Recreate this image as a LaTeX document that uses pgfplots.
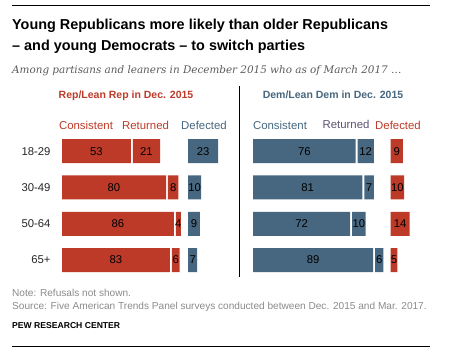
\documentclass[border=0pt]{standalone}
\usepackage{fontspec}
\setmainfont{Liberation Sans}
\newfontfamily\subfont{DejaVu Serif}
\usepackage{pgfplots}
\usepackage{pgfplotstable}
\pgfplotsset{compat=1.18}
\definecolor{pewred}{HTML}{BD3A29}
\definecolor{pewblue}{HTML}{46677F}
\definecolor{txtgray}{HTML}{5A5A5A}
\definecolor{notegray}{HTML}{8A8A8A}

\pgfplotstableread{
y c g r s d
0 53 1.5 21 21.5 23
1 80 1.5 8 7.5 10
2 86 1.5 4 5.5 9
3 83 1.5 6 6.5 7
}\leftbars
\pgfplotstableread{
y c g r s d
0 76 1.5 12 12.5 9
1 81 1.5 7 12.5 10
2 72 1.5 10 18.5 14
3 89 1.5 6 5.5 5
}\rightbars
\pgfplotstableread{
x y l
26.5 0 53
65 0 21
108.5 0 23
40 1 80
85.5 1 8
102 1 10
43 2 86
89.5 2 4
101.5 2 9
41.5 3 83
87.5 3 6
100.5 3 7
}\leftlabels
\pgfplotstableread{
x y l
38 0 76
83.5 0 12
106.5 0 9
40.5 1 81
86 1 7
107 1 10
36 2 72
78.5 2 10
109 2 14
44.5 3 89
93.5 3 6
104.5 3 5
}\rightlabels
\pgfplotstableread{
x y l
-8.7 0 18-29
-8.7 1 30-49
-8.7 2 50-64
-8.7 3 65+
}\rowlabels

\pgfplotsset{
  panel/.style={
    scale only axis, height=145.2pt,
    xmin=0, xmax=130, ymin=-0.5, ymax=3.5, y dir=reverse,
    hide axis, clip=false,
  },
  barpanel/.style={panel, xbar stacked, bar width=24pt},
  labpanel/.style={panel,
    nodes near coords style={anchor=center, font=\fontsize{11.3}{13}\selectfont, text=black, inner sep=0pt}},
}

\begin{document}
\begin{tikzpicture}
\useasboundingbox (0pt,0pt) rectangle (463pt,-355pt);
% rules
\draw[line width=0.9pt] (12pt,-5pt) -- (430pt,-5pt);
\draw[line width=0.9pt] (12pt,-346pt) -- (430pt,-346pt);
% title
\node[anchor=base west, inner sep=0pt, font=\bfseries\fontsize{14.4}{17}\selectfont] at (12pt,-29.5pt) {Young Republicans more likely than older Republicans};
\node[anchor=base west, inner sep=0pt, font=\bfseries\fontsize{14.4}{17}\selectfont] at (12pt,-51pt) {– and young Democrats – to switch parties};
\node[anchor=base west, inner sep=0pt, text=txtgray, font=\subfont\itshape\fontsize{10.4}{13}\selectfont] at (12pt,-74pt) {Among partisans and leaners in December 2015 who as of March 2017 \dots};
% panel headers
\node[anchor=base, inner sep=0pt, text=pewred, font=\bfseries\fontsize{10.5}{12}\selectfont] at (126pt,-99pt) {Rep/Lean Rep in Dec. 2015};
\node[anchor=base, inner sep=0pt, text=pewblue, font=\bfseries\fontsize{10.5}{12}\selectfont] at (333pt,-99pt) {Dem/Lean Dem in Dec. 2015};
% column headers
\begin{scope}[every node/.style={anchor=base, inner sep=0pt, font=\fontsize{11.4}{13}\selectfont}]
\node[text=pewred] at (86pt,-129.3pt) {Consistent};
\node[text=pewred] at (145.5pt,-129.3pt) {Returned};
\node[text=pewblue] at (204pt,-129.3pt) {Defected};
\node[text=pewblue] at (280pt,-129.3pt) {Consistent};
\node[text=pewblue!80!purple] at (346pt,-128.7pt) {Returned};
\node[text=pewred] at (398pt,-129.3pt) {Defected};
\end{scope}
% divider
\draw[line width=0.8pt] (239pt,-86pt) -- (239pt,-277pt);

% left panel
\begin{axis}[barpanel, at={(62pt,-278.2pt)}, anchor=south west, width=169pt]
\addplot[fill=pewred, draw=none] table[x=c,y=y] {\leftbars};
\addplot[fill=none, draw=none] table[x=g,y=y] {\leftbars};
\addplot[fill=pewred, draw=none] table[x=r,y=y] {\leftbars};
\addplot[fill=none, draw=none] table[x=s,y=y] {\leftbars};
\addplot[fill=pewblue, draw=none] table[x=d,y=y] {\leftbars};
\end{axis}
\begin{axis}[labpanel, at={(62pt,-278.2pt)}, anchor=south west, width=169pt]
\addplot[draw=none, mark=none, nodes near coords, point meta=explicit symbolic] table[x=x,y=y,meta=l] {\leftlabels};
\addplot[draw=none, mark=none, nodes near coords, point meta=explicit symbolic,
  nodes near coords style={anchor=east, text=black!85}] table[x=x,y=y,meta=l] {\rowlabels};
\end{axis}

% right panel
\begin{axis}[barpanel, at={(253pt,-278.2pt)}, anchor=south west, width=175.5pt]
\addplot[fill=pewblue, draw=none] table[x=c,y=y] {\rightbars};
\addplot[fill=none, draw=none] table[x=g,y=y] {\rightbars};
\addplot[fill=pewblue, draw=none] table[x=r,y=y] {\rightbars};
\addplot[fill=none, draw=none] table[x=s,y=y] {\rightbars};
\addplot[fill=pewred, draw=none] table[x=d,y=y] {\rightbars};
\end{axis}
\begin{axis}[labpanel, at={(253pt,-278.2pt)}, anchor=south west, width=175.5pt]
\addplot[draw=none, mark=none, nodes near coords, point meta=explicit symbolic] table[x=x,y=y,meta=l] {\rightlabels};
\end{axis}

% notes
\node[anchor=base west, inner sep=0pt, text=notegray, font=\fontsize{10.1}{12}\selectfont] at (12pt,-296.7pt) {Note: Refusals not shown.};
\node[anchor=base west, inner sep=0pt, text=notegray, font=\fontsize{10.1}{12}\selectfont] at (12pt,-309.3pt) {Source: Five American Trends Panel surveys conducted between Dec. 2015 and Mar. 2017.};
\node[anchor=base west, inner sep=0pt, font=\bfseries\fontsize{8.6}{10}\selectfont] at (12pt,-328.7pt) {PEW RESEARCH CENTER};
\end{tikzpicture}
\end{document}
